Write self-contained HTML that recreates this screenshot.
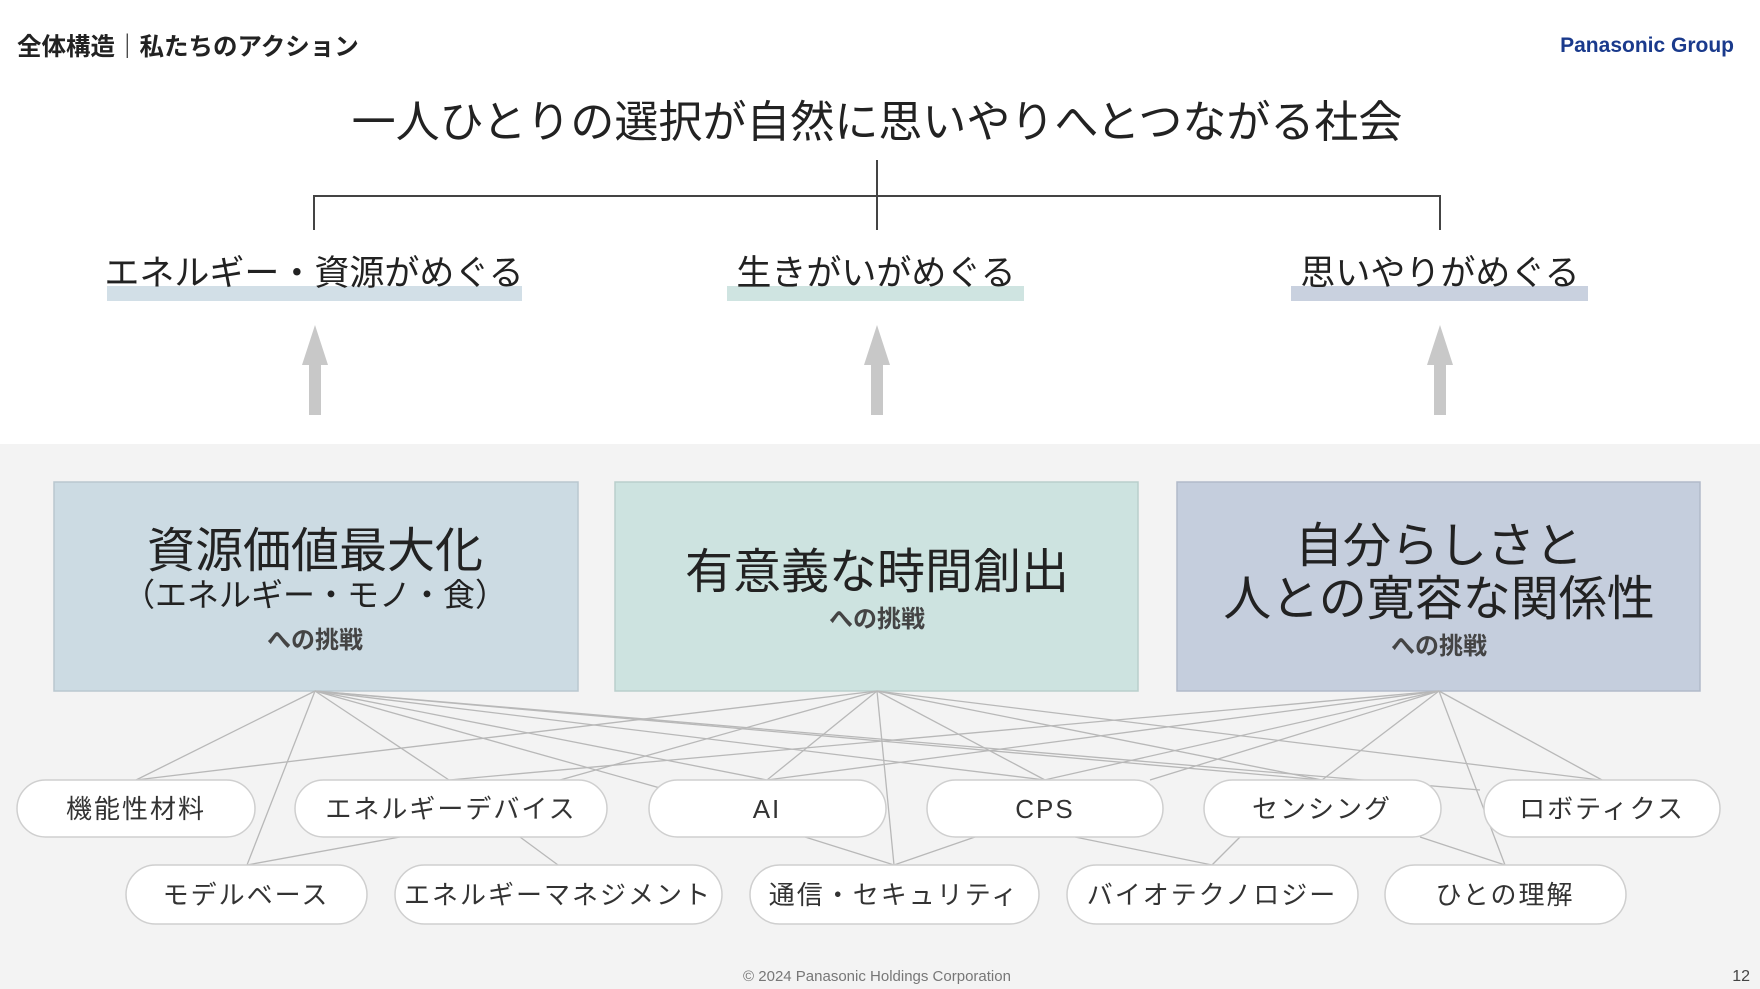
<!DOCTYPE html>
<html><head><meta charset="utf-8"><style>
html,body{margin:0;padding:0;background:#fff;}
svg{display:block;}
text{font-family:"Liberation Sans","Noto Sans CJK JP",sans-serif;}
</style></head><body>
<svg width="1760" height="989" viewBox="0 0 1760 989" xmlns="http://www.w3.org/2000/svg">
<rect x="0" y="0" width="1760" height="989" fill="#ffffff"/>
<rect x="0" y="444" width="1760" height="545" fill="#f3f3f3"/>
<text x="17" y="55" font-size="24.5" font-weight="bold" fill="#222">全体構造｜私たちのアクション</text>
<text x="1734" y="52" font-size="21" font-weight="bold" fill="#1a3a8c" text-anchor="end">Panasonic Group</text>
<text x="877" y="137" font-size="44" fill="#222" text-anchor="middle">一人ひとりの選択が自然に思いやりへとつながる社会</text>
<g stroke="#444" stroke-width="2" fill="none">
<line x1="877" y1="160" x2="877" y2="230"/>
<polyline points="314,230 314,196 1440,196 1440,230"/>
</g>
<rect x="107" y="286" width="415" height="15" fill="#d2dfe7"/>
<rect x="727" y="286" width="297" height="15" fill="#cfe4e1"/>
<rect x="1291" y="286" width="297" height="15" fill="#c9d1df"/>
<text x="314" y="285" font-size="35" fill="#222" text-anchor="middle">エネルギー・資源がめぐる</text>
<text x="876" y="285" font-size="35" fill="#222" text-anchor="middle">生きがいがめぐる</text>
<text x="1440" y="285" font-size="35" fill="#222" text-anchor="middle">思いやりがめぐる</text>
<g fill="#c8c8c8">
<polygon points="315,325 302,365 309,365 309,415 321,415 321,365 328,365"/>
<polygon points="877,325 864,365 871,365 871,415 883,415 883,365 890,365"/>
<polygon points="1440,325 1427,365 1434,365 1434,415 1446,415 1446,365 1453,365"/>
</g>
<rect x="54" y="482" width="524" height="209" fill="#ccdbe3" stroke="#b9c8d0" stroke-width="1.5"/>
<rect x="615" y="482" width="523" height="209" fill="#cde3e0" stroke="#b9cfcc" stroke-width="1.5"/>
<rect x="1177" y="482" width="523" height="209" fill="#c5cedd" stroke="#b1bac9" stroke-width="1.5"/>
<g fill="#222" text-anchor="middle">
<text x="315" y="567" font-size="48">資源価値最大化</text>
<text x="315" y="606" font-size="32">（エネルギー・モノ・食）</text>
<text x="315" y="648" font-size="24" fill="#444" font-weight="bold">への挑戦</text>
<text x="877" y="588" font-size="48">有意義な時間創出</text>
<text x="877" y="627" font-size="24" fill="#444" font-weight="bold">への挑戦</text>
<text x="1439" y="562" font-size="48">自分らしさと</text>
<text x="1439" y="615" font-size="48">人との寛容な関係性</text>
<text x="1439" y="654" font-size="24" fill="#444" font-weight="bold">への挑戦</text>
</g>
<g stroke="#b8b8b8" stroke-width="1.3">
<line x1="315" y1="691" x2="136" y2="780"/>
<line x1="315" y1="691" x2="247" y2="865"/>
<line x1="315" y1="691" x2="449" y2="780"/>
<line x1="315" y1="691" x2="660" y2="788"/>
<line x1="315" y1="691" x2="767" y2="780"/>
<line x1="315" y1="691" x2="1045" y2="780"/>
<line x1="315" y1="691" x2="1322" y2="780"/>
<line x1="315" y1="691" x2="1480" y2="790"/>
<line x1="877" y1="691" x2="136" y2="780"/>
<line x1="877" y1="691" x2="560" y2="780"/>
<line x1="877" y1="691" x2="767" y2="780"/>
<line x1="877" y1="691" x2="894" y2="865"/>
<line x1="877" y1="691" x2="1045" y2="780"/>
<line x1="877" y1="691" x2="1322" y2="780"/>
<line x1="877" y1="691" x2="1600" y2="780"/>
<line x1="1439" y1="691" x2="449" y2="780"/>
<line x1="1439" y1="691" x2="767" y2="780"/>
<line x1="1439" y1="691" x2="1000" y2="790"/>
<line x1="1439" y1="691" x2="1150" y2="780"/>
<line x1="1439" y1="691" x2="1322" y2="780"/>
<line x1="1439" y1="691" x2="1602" y2="780"/>
<line x1="1439" y1="691" x2="1505" y2="865"/>
<line x1="400" y1="837" x2="247" y2="865"/>
<line x1="520" y1="837" x2="558" y2="865"/>
<line x1="805" y1="837" x2="894" y2="865"/>
<line x1="975" y1="837" x2="894" y2="865"/>
<line x1="1075" y1="837" x2="1212" y2="865"/>
<line x1="1240" y1="837" x2="1212" y2="865"/>
<line x1="1420" y1="837" x2="1505" y2="865"/>
</g>
<g fill="#fff" stroke="#cfcfcf" stroke-width="1.5">
<rect x="17" y="780" width="238" height="57" rx="28.5"/>
<rect x="295" y="780" width="312" height="57" rx="28.5"/>
<rect x="649" y="780" width="237" height="57" rx="28.5"/>
<rect x="927" y="780" width="236" height="57" rx="28.5"/>
<rect x="1204" y="780" width="237" height="57" rx="28.5"/>
<rect x="1484" y="780" width="236" height="57" rx="28.5"/>
<rect x="126" y="865" width="241" height="59" rx="29.5"/>
<rect x="395" y="865" width="327" height="59" rx="29.5"/>
<rect x="750" y="865" width="289" height="59" rx="29.5"/>
<rect x="1067" y="865" width="291" height="59" rx="29.5"/>
<rect x="1385" y="865" width="241" height="59" rx="29.5"/>
</g>
<g fill="#333" font-size="26" text-anchor="middle" letter-spacing="2">
<text x="136" y="818">機能性材料</text>
<text x="451" y="818">エネルギーデバイス</text>
<text x="767" y="818">AI</text>
<text x="1045" y="818">CPS</text>
<text x="1322" y="818">センシング</text>
<text x="1602" y="818">ロボティクス</text>
<text x="246" y="904">モデルベース</text>
<text x="558" y="904">エネルギーマネジメント</text>
<text x="894" y="904">通信・セキュリティ</text>
<text x="1212" y="904">バイオテクノロジー</text>
<text x="1505" y="904">ひとの理解</text>
</g>
<text x="877" y="981" font-size="15" fill="#777" text-anchor="middle">© 2024 Panasonic Holdings Corporation</text>
<text x="1750" y="981" font-size="16" fill="#444" text-anchor="end">12</text>
</svg>
</body></html>
